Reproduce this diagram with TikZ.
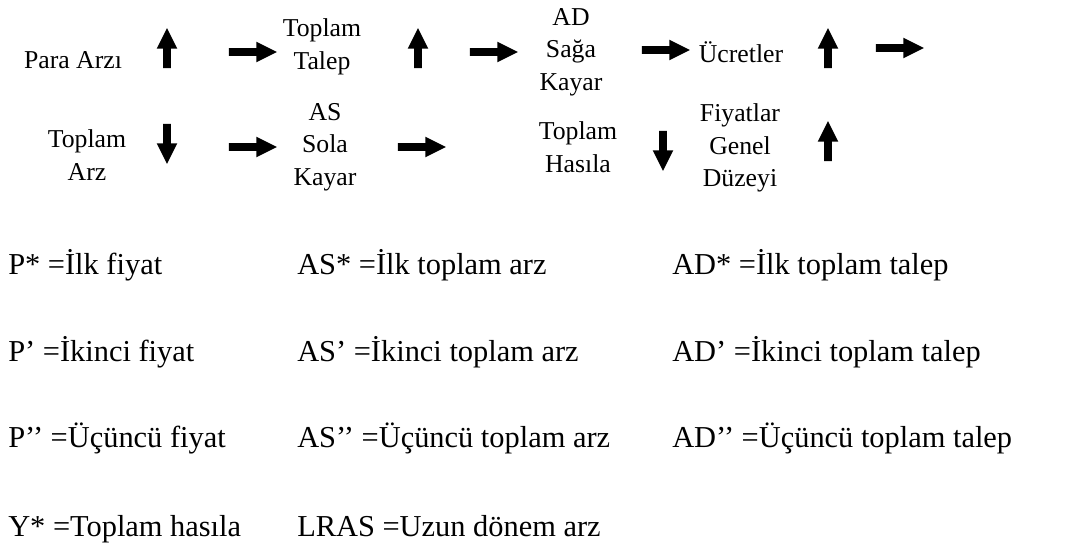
\documentclass[tikz,border=0pt]{standalone}
\usepackage{fontspec}
\setmainfont{Liberation Serif}
\usetikzlibrary{shapes,arrows,positioning}

\begin{document}
\begin{tikzpicture}[x=0.75pt, y=-0.75pt,
        item/.style={align=center, inner sep=0pt, font=\fontsize{19.3}{24.5}\selectfont},
        legend/.style={anchor=base west, inner sep=0pt, font=\fontsize{22.8}{27}\selectfont},
        sym/.style={single arrow, fill=black, draw=none, inner xsep=0pt, inner ysep=2.7pt,
            minimum width=15pt, single arrow head extend=4.8pt, single arrow tip angle=53},
        incr/.style={sym, minimum height=30pt, rotate=90},
        decr/.style={sym, minimum height=30pt, rotate=-90},
        flow/.style={sym, minimum height=36pt}]

        \useasboundingbox (0,0) rectangle (1078,548);

        % first chain
        \node[item] (para) at (73,60) {Para Arzı};
        \node[incr] (up1) at (167,52) {};
        \node[flow] (fl1) at (249,52) {};
        \node[item] (talep) at (322,47) {Toplam\\Talep};
        \node[incr] (up2) at (418,52) {};
        \node[flow] (fl2) at (490,52) {};
        \node[item] (adsag) at (571,52) {AD\\Sağa\\Kayar};
        \node[flow] (fl3) at (662,50) {};
        \node[item] (ucret) at (741,52) {Ücretler};
        \node[incr] (up3) at (828,52) {};
        \node[flow] (fl4) at (896,48) {};

        % second chain
        \node[item] (arz) at (87,155) {Toplam\\Arz};
        \node[decr] (down1) at (167,140) {};
        \node[flow] (fl5) at (249,147) {};
        \node[item] (assol) at (325,147) {AS\\Sola\\Kayar};
        \node[flow] (fl6) at (418,147) {};
        \node[item] (hasila) at (578,147) {Toplam\\Hasıla};
        \node[decr] (down2) at (663,147) {};
        \node[item] (fiyat) at (740,148) {Fiyatlar\\Genel\\Düzeyi};
        \node[incr] (up4) at (828,145) {};

        % legend
        \node[legend] (pyildiz) at (8,275) {P* =İlk fiyat};
        \node[legend] (asyildiz) at (297,275) {AS* =İlk toplam arz};
        \node[legend] (adyildiz) at (672,275) {AD* =İlk toplam talep};
        \node[legend] (pbir) at (8,362) {P’ =İkinci fiyat};
        \node[legend] (asbir) at (297,362) {AS’ =İkinci toplam arz};
        \node[legend] (adbir) at (672,362) {AD’ =İkinci toplam talep};
        \node[legend] (piki) at (8,448) {P’’ =Üçüncü fiyat};
        \node[legend] (asiki) at (297,448) {AS’’ =Üçüncü toplam arz};
        \node[legend] (adiki) at (672,448) {AD’’ =Üçüncü toplam talep};
        \node[legend] (yyildiz) at (8,537) {Y* =Toplam hasıla};
        \node[legend] (lras) at (297,537) {LRAS =Uzun dönem arz};
    \end{tikzpicture}
\end{document}
